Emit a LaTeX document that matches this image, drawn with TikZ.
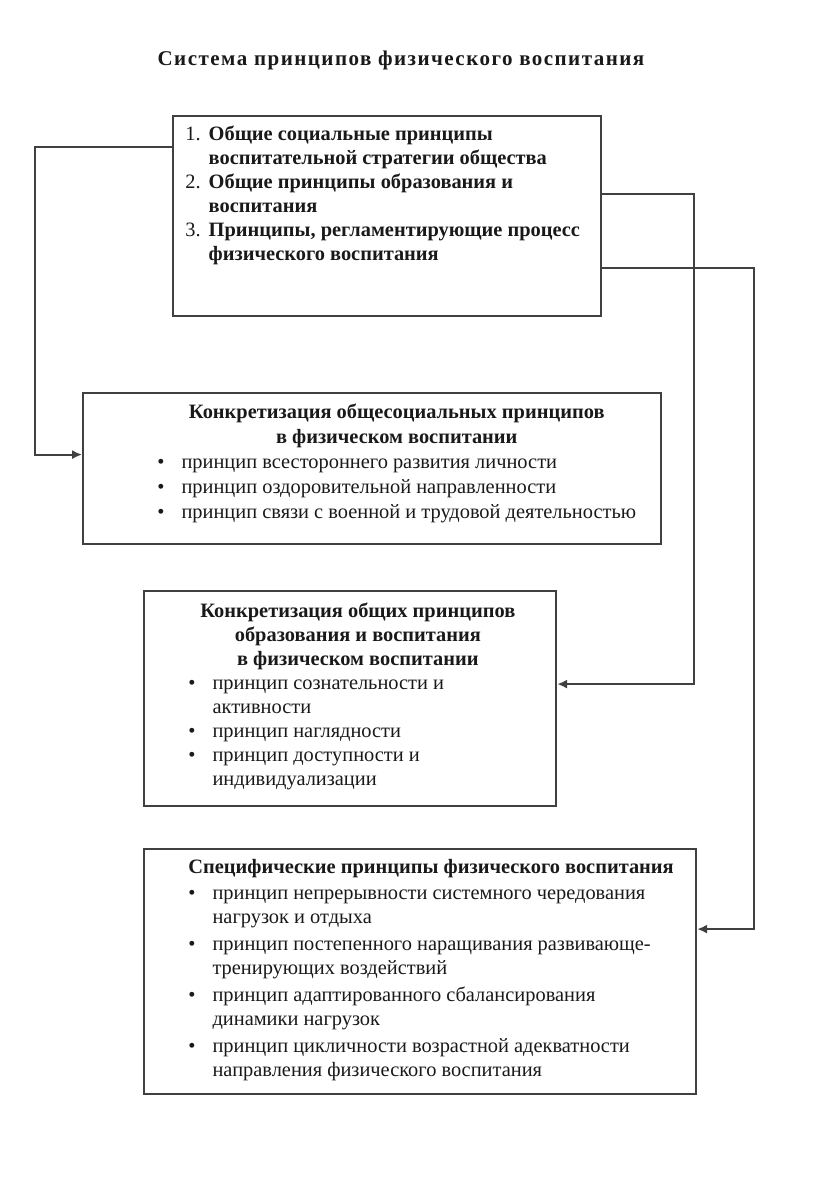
\documentclass[tikz,border=0pt]{standalone}
\usepackage{fontspec}
\setmainfont{Liberation Serif}
\usetikzlibrary{arrows.meta,positioning}

\begin{document}
\begin{tikzpicture}[x=0.5pt, y=-0.5pt, node distance=0pt,
  every node/.style={font=\fontsize{10.2}{12}\selectfont, text=black!90},
  box/.style={draw=black!75, line width=1.1pt, anchor=north west, inner sep=0pt},
  txt/.style={anchor=north west, inner sep=0pt, align=left},
  arrow/.style={-{Latex[length=5pt,width=4.6pt]}, draw=black!75, line width=1.1pt}]
\useasboundingbox (0,0) rectangle (816,1177);
\node[font=\fontsize{10.5}{12}\selectfont\bfseries\addfontfeature{LetterSpace=7}] (title) at (401,60) {Система принципов физического воспитания};
% boxes
\node[box, minimum width=214pt, minimum height=100pt] (sys) at (172,115) {};
\node[box, minimum width=289pt, minimum height=75.5pt] (social) at (82,392) {};
\node[box, minimum width=206pt, minimum height=107.5pt] (general) at (143,590) {};
\node[box, minimum width=276pt, minimum height=122.5pt] (specific) at (143,848) {};
% texts
\node[txt, below right=4pt and 6.5pt of sys.north west] (sys-text) {\begin{tabular}{@{}l@{\hspace{4pt}}l@{}}
1. & \textbf{Общие социальные принципы}\\
   & \textbf{воспитательной стратегии общества}\\
2. & \textbf{Общие принципы образования и}\\
   & \textbf{воспитания}\\
3. & \textbf{Принципы, регламентирующие процесс}\\
   & \textbf{физического воспитания}
\end{tabular}};
\node[txt, below right=4.5pt and 37.5pt of social.north west] (social-text) {\renewcommand\arraystretch{1.04}\begin{tabular}{@{}l@{\hspace{8.5pt}}l@{}}
\multicolumn{2}{c}{\textbf{Конкретизация общесоциальных принципов}}\\
\multicolumn{2}{c}{\textbf{в физическом воспитании}}\\
\textbullet & принцип всестороннего развития личности\\
\textbullet & принцип оздоровительной направленности\\
\textbullet & принцип связи с военной и трудовой деятельностью
\end{tabular}};
\node[txt, below right=5pt and 22.5pt of general.north west] (general-text) {\begin{tabular}{@{}l@{\hspace{8.5pt}}l@{}}
\multicolumn{2}{c}{\textbf{Конкретизация общих принципов}}\\
\multicolumn{2}{c}{\textbf{образования и воспитания}}\\
\multicolumn{2}{c}{\textbf{в физическом воспитании}}\\
\textbullet & принцип сознательности и\\
            & активности\\
\textbullet & принцип наглядности\\
\textbullet & принцип доступности и\\
            & индивидуализации
\end{tabular}};
\node[txt, below right=4pt and 16.5pt of specific.north west] (specific-text) {\begin{tabular}{@{}l@{\hspace{8.5pt}}l@{}}
\multicolumn{2}{c}{\textbf{Специфические принципы физического воспитания}}\\[1pt]
\hspace{6pt}\textbullet & принцип непрерывности системного чередования\\
            & нагрузок и отдыха\\[1.5pt]
\hspace{6pt}\textbullet & принцип постепенного  наращивания развивающе-\\
            & тренирующих воздействий\\[1.5pt]
\hspace{6pt}\textbullet & принцип адаптированного сбалансирования\\
            & динамики нагрузок\\[1.5pt]
\hspace{6pt}\textbullet & принцип цикличности возрастной адекватности\\
            & направления физического воспитания
\end{tabular}};
% connectors
\draw[arrow] ([yshift=-16pt]sys.north west) -- ++(-137,0) |- ([yshift=7pt]social.west);
\draw[arrow] ([yshift=-39.5pt]sys.north east) -- ++(92,0) |- ([yshift=7.25pt]general.east);
\draw[arrow] ([yshift=-76.5pt]sys.north east) -- ++(152,0) |- ([yshift=21.25pt]specific.east);
\end{tikzpicture}
\end{document}
